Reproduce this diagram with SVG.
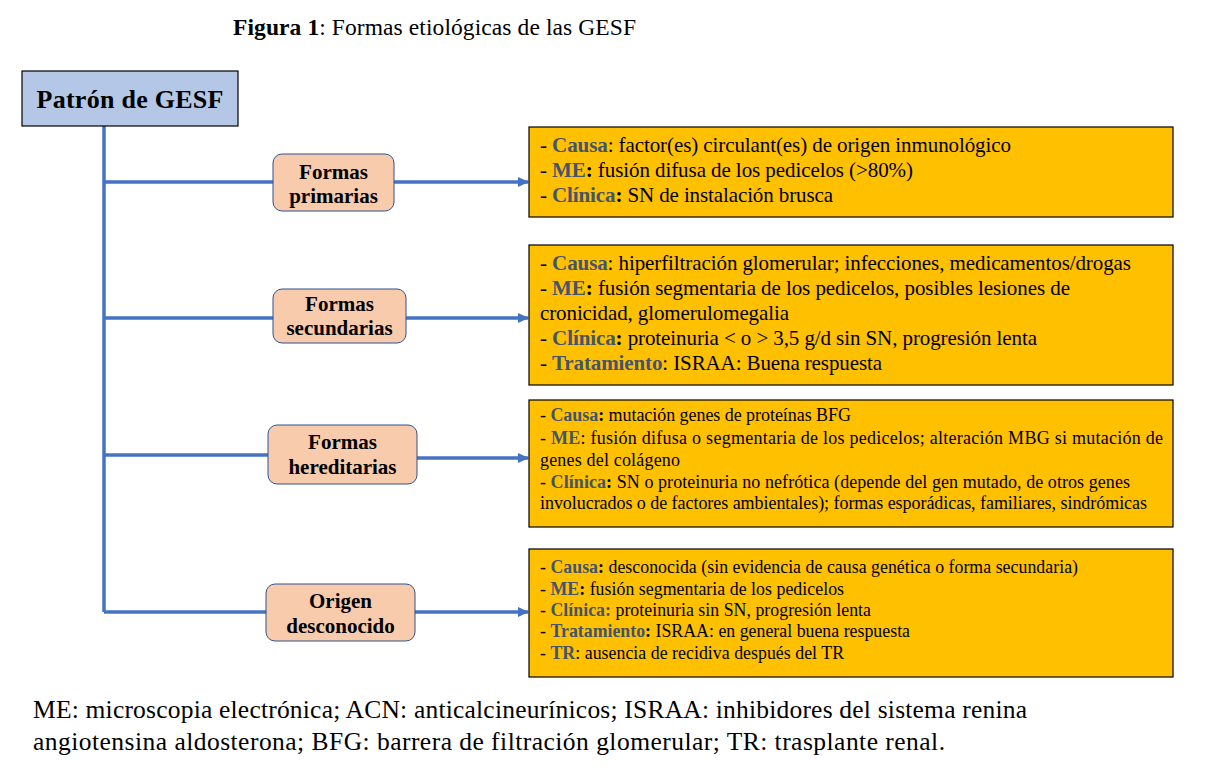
<svg xmlns="http://www.w3.org/2000/svg" width="1209" height="775" viewBox="0 0 1209 775" font-family="'Liberation Serif','Times New Roman',serif">
<defs>
<marker id="arr" markerWidth="11" markerHeight="10" refX="10" refY="5" orient="auto" markerUnits="userSpaceOnUse">
<path d="M0,0 L11,5 L0,10 z" fill="#4472C4"/>
</marker>
<style>
text{font-family:"Liberation Serif","Times New Roman",serif;fill:#000}
.lbl{fill:#F8CBAD;stroke:#2F528F;stroke-width:1}
.gold{fill:#FFC000;stroke:#000;stroke-width:1.2}
.ln{stroke:#4472C4;stroke-width:3.5;fill:none}
.nt{font-weight:bold;font-size:21px;text-anchor:middle}
.k{font-weight:bold;fill:#44546A}
.b1{font-size:21px}
.b3{font-size:18px}
.b4{font-size:17.8px}
</style>
</defs>
<rect width="1209" height="775" fill="#fff"/>
<text x="233" y="35" font-size="23.5" textLength="403" lengthAdjust="spacing"><tspan font-weight="bold">Figura 1</tspan>: Formas etiológicas de las GESF</text>

<g id="connectors">
<path class="ln" d="M104,126 V612"/>
<path class="ln" d="M104,182 H273"/>
<path class="ln" d="M104,318 H273"/>
<path class="ln" d="M104,455 H268"/>
<path class="ln" d="M104,612 H266"/>
<path class="ln" d="M394,182 H528" marker-end="url(#arr)"/>
<path class="ln" d="M406,318 H528" marker-end="url(#arr)"/>
<path class="ln" d="M417,458 H528" marker-end="url(#arr)"/>
<path class="ln" d="M415,612 H528" marker-end="url(#arr)"/>
</g>

<g id="root">
<rect x="22" y="71" width="216" height="55" fill="#B4C7E7" stroke="#000" stroke-width="1.2"/>
<text x="130" y="108" font-size="26" font-weight="bold" text-anchor="middle" textLength="187" lengthAdjust="spacing">Patrón de GESF</text>
</g>

<g id="primarias">
<rect x="273" y="154" width="121" height="57" rx="9" class="lbl" stroke="#000"/>
<text class="nt" x="333.5" y="179">Formas</text>
<text class="nt" x="333.5" y="203">primarias</text>
</g>
<g id="secundarias">
<rect x="273" y="289" width="133" height="54" rx="9" class="lbl"/>
<text class="nt" x="339.5" y="311">Formas</text>
<text class="nt" x="339.5" y="335">secundarias</text>
</g>
<g id="hereditarias">
<rect x="268" y="425" width="149" height="59" rx="9" class="lbl"/>
<text class="nt" x="342.5" y="449">Formas</text>
<text class="nt" x="342.5" y="474">hereditarias</text>
</g>
<g id="desconocido">
<rect x="266" y="584" width="149" height="57" rx="9" class="lbl"/>
<text class="nt" x="340.5" y="608">Origen</text>
<text class="nt" x="340.5" y="633">desconocido</text>
</g>

<g id="info-primarias">
<rect x="529" y="127" width="644" height="90" class="gold"/>
<text class="b1" x="540" y="152" textLength="471" lengthAdjust="spacing">- <tspan class="k">Causa</tspan>: factor(es) circulant(es) de origen inmunológico</text>
<text class="b1" x="540" y="177" textLength="373" lengthAdjust="spacing">- <tspan class="k">ME</tspan><tspan font-weight="bold">:</tspan> fusión difusa de los pedicelos (&gt;80%)</text>
<text class="b1" x="540" y="202" textLength="293" lengthAdjust="spacing">- <tspan class="k">Clínica</tspan><tspan font-weight="bold">:</tspan> SN de instalación brusca</text>
</g>

<g id="info-secundarias">
<rect x="529" y="245" width="644" height="140" class="gold"/>
<text class="b1" x="540" y="270" textLength="591" lengthAdjust="spacing">- <tspan class="k">Causa</tspan>: hiperfiltración glomerular; infecciones, medicamentos/drogas</text>
<text class="b1" x="540" y="295" textLength="530" lengthAdjust="spacing">- <tspan class="k">ME</tspan><tspan font-weight="bold">:</tspan> fusión segmentaria de los pedicelos, posibles lesiones de</text>
<text class="b1" x="540" y="320" textLength="249" lengthAdjust="spacing">cronicidad, glomerulomegalia</text>
<text class="b1" x="540" y="345" textLength="497" lengthAdjust="spacing">- <tspan class="k">Clínica</tspan><tspan font-weight="bold">:</tspan> proteinuria &lt; o &gt; 3,5 g/d sin SN, progresión lenta</text>
<text class="b1" x="540" y="370" textLength="342" lengthAdjust="spacing">- <tspan class="k">Tratamiento</tspan>: ISRAA: Buena respuesta</text>
</g>

<g id="info-hereditarias">
<rect x="529" y="400" width="644" height="127" class="gold"/>
<text class="b3" x="540" y="421" textLength="311" lengthAdjust="spacing">- <tspan class="k">Causa</tspan><tspan font-weight="bold">:</tspan> mutación genes de proteínas BFG</text>
<text class="b3" x="540" y="444" textLength="623" lengthAdjust="spacing">- <tspan class="k">ME</tspan>: fusión difusa o segmentaria de los pedicelos; alteración MBG si mutación de</text>
<text class="b3" x="540" y="466" textLength="140" lengthAdjust="spacing">genes del colágeno</text>
<text class="b3" x="540" y="488" textLength="590" lengthAdjust="spacing">- <tspan class="k">Clínica</tspan><tspan font-weight="bold">:</tspan> SN o proteinuria no nefrótica (depende del gen mutado, de otros genes</text>
<text class="b3" x="540" y="509" textLength="607" lengthAdjust="spacing">involucrados o de factores ambientales); formas esporádicas, familiares, sindrómicas</text>
</g>

<g id="info-desconocido">
<rect x="529" y="549" width="644" height="128" class="gold"/>
<text class="b4" x="540" y="573" textLength="538" lengthAdjust="spacing">- <tspan class="k">Causa</tspan><tspan font-weight="bold">:</tspan> desconocida (sin evidencia de causa genética o forma secundaria)</text>
<text class="b4" x="540" y="595" textLength="304" lengthAdjust="spacing">- <tspan class="k">ME</tspan><tspan font-weight="bold">:</tspan> fusión segmentaria de los pedicelos</text>
<text class="b4" x="540" y="616" textLength="331" lengthAdjust="spacing">- <tspan class="k">Clínica:</tspan> proteinuria sin SN, progresión lenta</text>
<text class="b4" x="540" y="637" textLength="370" lengthAdjust="spacing">- <tspan class="k">Tratamiento</tspan><tspan font-weight="bold">:</tspan> ISRAA: en general buena respuesta</text>
<text class="b4" x="540" y="659" textLength="304" lengthAdjust="spacing">- <tspan class="k">TR</tspan>: ausencia de recidiva después del TR</text>
</g>

<g id="footer">
<text x="33" y="718" font-size="25.5" textLength="994" lengthAdjust="spacing">ME: microscopia electrónica; ACN: anticalcineurínicos; ISRAA: inhibidores del sistema renina</text>
<text x="33" y="750" font-size="25.5" textLength="912" lengthAdjust="spacing">angiotensina aldosterona; BFG: barrera de filtración glomerular; TR: trasplante renal.</text>
</g>
</svg>
